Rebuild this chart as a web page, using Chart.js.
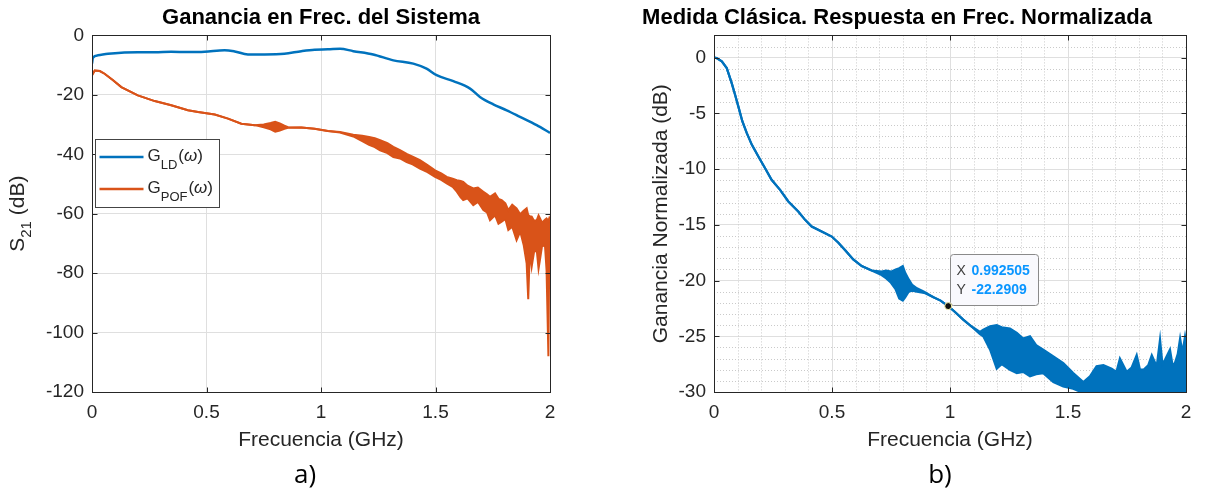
<!DOCTYPE html>
<html>
<head>
<meta charset="utf-8">
<script src="https://cdn.jsdelivr.net/npm/chart.js@4.4.1/dist/chart.umd.min.js"></script>
<style>
  body { margin: 0; background: #fff; width: 1216px; height: 492px; position: relative; overflow: hidden; }
  canvas { position: absolute; top: 0; }
  #left { left: 0; }
  #right { left: 608px; }
  .tag { position: absolute; top: 458px; width: 100px; text-align: center; font: 26px "Open Sans", sans-serif; line-height: 30px; color: #000; }
</style>
</head>
<body>
<canvas id="left" width="608" height="492"></canvas>
<canvas id="right" width="684" height="492"></canvas>
<div class="tag" style="left:255px">a)</div>
<div class="tag" style="left:890px">b)</div>
<script>
// Axis ticks
const xTicks = [0, 0.5, 1, 1.5, 2];
const xTickLabels = ['0', '0.5', '1', '1.5', '2'];
const yTicksLeft = [-120, -100, -80, -60, -40, -20, 0];
const yTickLabelsLeft = ['-120', '-100', '-80', '-60', '-40', '-20', '0'];
const yTicksRight = [-30, -25, -20, -15, -10, -5, 0];
const yTickLabelsRight = ['-30', '-25', '-20', '-15', '-10', '-5', '0'];

// a) G_LD (smooth)
const ldFreq = [0, 0.004, 0.026, 0.07, 0.128, 0.2, 0.274, 0.346, 0.419, 0.492,
  0.579, 0.623, 0.681, 0.754, 0.84, 0.914, 0.972, 1.03, 1.083, 1.141,
  1.228, 1.316, 1.403, 1.461, 1.505, 1.578, 1.651, 1.694, 1.752, 1.811,
  1.869, 1.942, 2.0];
const ldGain = [-9.5, -7.5, -6.7, -6.2, -5.8, -5.7, -5.7, -5.5, -5.6, -5.5,
  -5.0, -5.4, -6.4, -6.4, -6.2, -5.3, -4.8, -4.7, -4.5, -5.3,
  -6.4, -8.4, -9.5, -11.2, -13.4, -15.4, -17.9, -20.7, -23.2, -25.2,
  -27.4, -30.2, -32.8];

// a) G_POF: upper / lower envelope of the noisy trace
const pofFreq = [0, 0.012, 0.034, 0.055, 0.092, 0.128, 0.2, 0.274, 0.346, 0.419,
  0.463, 0.536, 0.594, 0.652, 0.711, 0.75, 0.78, 0.8, 0.82, 0.84,
  0.856, 0.914, 0.972, 1.03, 1.083, 1.141, 1.18, 1.21, 1.235, 1.258,
  1.29, 1.316, 1.345, 1.374, 1.4, 1.432, 1.465, 1.498, 1.525, 1.549,
  1.575, 1.593, 1.61, 1.621, 1.64, 1.665, 1.685, 1.709, 1.725, 1.738,
  1.76, 1.775, 1.789, 1.805, 1.818, 1.835, 1.854, 1.87, 1.885, 1.898,
  1.905, 1.912, 1.92, 1.93, 1.942, 1.95, 1.956, 1.965, 1.978, 1.985,
  1.993, 1.997, 2.0];
const pofHigh = [-13.4, -11.8, -12.0, -12.9, -15.1, -17.4, -20.2, -22.1, -23.5, -25.2,
  -25.8, -26.6, -28.0, -29.7, -30.2, -30.0, -29.5, -29.1, -29.6, -30.4,
  -30.9, -31.0, -31.4, -32.2, -32.5, -33.4, -33.8, -34.2, -34.6, -35.3,
  -36.3, -37.5, -38.6, -39.9, -40.8, -42.0, -43.6, -45.4, -46.4, -47.6,
  -48.2, -48.7, -49.0, -49.3, -50.6, -51.5, -51.2, -52.6, -53.5, -54.3,
  -53.2, -55.0, -55.4, -56.5, -58.8, -57.0, -58.2, -60.2, -59.0, -58.2,
  -60.5, -60.8, -61.0, -62.4, -62.2, -60.6, -61.5, -63.0, -62.0, -61.6,
  -62.5, -61.5, -62.0];
const pofLow = [-13.4, -11.8, -12.0, -12.9, -15.1, -17.4, -20.2, -22.1, -23.5, -25.2,
  -25.8, -26.6, -28.0, -29.7, -30.2, -30.9, -31.6, -32.4, -32.0, -31.4,
  -31.1, -31.0, -31.4, -32.2, -32.7, -34.0, -35.6, -36.8, -37.6, -38.7,
  -39.6, -40.9, -41.4, -42.6, -43.4, -44.8, -46.0, -47.6, -48.6, -49.8,
  -51.0, -52.6, -54.5, -55.4, -54.8, -57.1, -56.0, -58.8, -59.6, -62.2,
  -60.5, -63.4, -62.7, -61.8, -65.5, -64.4, -68.9, -66.0, -70.5, -76.7,
  -88.8, -72.0, -77.8, -73.0, -72.2, -78.5, -75.6, -71.0, -70.6, -79.0,
  -108.0, -72.0, -68.9];

// b) normalized response: upper / lower envelope
const normFreq = [0, 0.011, 0.033, 0.054, 0.075, 0.089, 0.103, 0.12, 0.139, 0.16,
  0.188, 0.216, 0.244, 0.28, 0.315, 0.357, 0.386, 0.414, 0.456, 0.499,
  0.527, 0.555, 0.59, 0.626, 0.668, 0.71, 0.73, 0.75, 0.77, 0.785,
  0.8, 0.81, 0.825, 0.84, 0.86, 0.89, 0.93, 0.96, 0.9925, 1.02,
  1.056, 1.09, 1.127, 1.141, 1.17, 1.198, 1.219, 1.254, 1.283, 1.31,
  1.339, 1.365, 1.395, 1.438, 1.48, 1.522, 1.565, 1.593, 1.621, 1.65,
  1.685, 1.705, 1.72, 1.749, 1.77, 1.791, 1.805, 1.82, 1.84, 1.855,
  1.876, 1.89, 1.9, 1.911, 1.932, 1.943, 1.953, 1.965, 1.975, 1.985,
  1.996, 2.0];
const normHigh = [0, -0.03, -0.33, -0.93, -2.28, -3.3, -4.37, -5.7, -6.77, -7.8,
  -8.87, -9.9, -10.96, -11.86, -12.9, -13.8, -14.55, -15.15, -15.6, -16.05,
  -16.6, -17.25, -18.1, -18.7, -19.1, -19.2, -19.1, -19.2, -19.0, -18.9,
  -18.7, -19.3, -19.9, -20.4, -20.7, -21.0, -21.5, -21.8, -22.29, -22.8,
  -23.5, -24.1, -24.6, -24.4, -24.1, -24.0, -24.2, -24.3, -24.7, -25.2,
  -25.0, -25.8, -26.2, -26.8, -27.4, -28.3, -29.1, -28.6, -27.7, -27.6,
  -27.9, -28.2, -27.0, -28.2, -27.8, -26.7, -28.0, -28.0, -27.6, -26.7,
  -27.7, -25.3, -27.5, -27.1, -26.2, -27.6, -27.4, -26.6, -25.2, -26.5,
  -25.0, -25.5];
const normLow = [0, -0.03, -0.33, -0.93, -2.28, -3.3, -4.37, -5.7, -6.77, -7.8,
  -8.87, -9.9, -10.96, -11.86, -12.9, -13.8, -14.55, -15.15, -15.6, -16.05,
  -16.6, -17.25, -18.1, -18.7, -19.1, -19.5, -19.8, -20.2, -20.8, -21.6,
  -21.8, -21.5, -21.0, -20.9, -21.0, -21.1, -21.5, -21.8, -22.29, -22.8,
  -23.5, -24.1, -24.8, -25.0, -26.2, -27.9, -27.5, -28.0, -28.3, -28.2,
  -28.6, -28.4, -28.3, -29.1, -29.5, -29.7, -30.1, -31, -31, -31,
  -31, -31, -31, -31, -31, -31, -31, -31, -31, -31,
  -31, -31, -31, -31, -31, -31, -31, -31, -31, -31,
  -31, -31];

// data tip on b)
const tipX = 0.992505;
const tipY = -22.2909;

const FONT = '"Liberation Sans", Arial, sans-serif';
const AXIS = '#262626';
const GRID = '#dfdfdf';
const BLUE = '#0072BD';
const ORANGE = '#D95319';

const pts = (xs, ys) => xs.map((x, i) => ({ x: x, y: ys[i] }));

// box round the axes with inward tick marks (MATLAB style)
const frame = {
  id: 'frame',
  afterDatasetsDraw(chart) {
    const { ctx, chartArea: a, scales: { x, y } } = chart;
    const L = Math.round(a.left) + 0.5, R = Math.round(a.right) + 0.5;
    const T = Math.round(a.top) + 0.5, B = Math.round(a.bottom) + 0.5;
    ctx.save();
    ctx.strokeStyle = AXIS;
    ctx.lineWidth = 1;
    ctx.strokeRect(L, T, R - L, B - T);
    ctx.beginPath();
    x.ticks.forEach(t => {
      const px = Math.round(x.getPixelForValue(t.value)) + 0.5;
      ctx.moveTo(px, B); ctx.lineTo(px, B - 5);
      ctx.moveTo(px, T); ctx.lineTo(px, T + 5);
    });
    y.ticks.forEach(t => {
      const py = Math.round(y.getPixelForValue(t.value)) + 0.5;
      ctx.moveTo(L, py); ctx.lineTo(L + 5, py);
      ctx.moveTo(R, py); ctx.lineTo(R - 5, py);
    });
    ctx.stroke();
    ctx.restore();
  }
};

// dotted minor grid for b)
const minorGrid = {
  id: 'minorGrid',
  beforeDatasetsDraw(chart) {
    const { ctx, chartArea: a, scales: { x, y } } = chart;
    ctx.save();
    ctx.strokeStyle = '#cacaca';
    ctx.lineWidth = 1;
    ctx.setLineDash([1, 2]);
    ctx.beginPath();
    for (let i = 1; i < 20; i++) {
      if (i % 5 === 0) continue;
      const px = Math.round(x.getPixelForValue(i / 10)) + 0.5;
      ctx.moveTo(px, a.top); ctx.lineTo(px, a.bottom);
    }
    for (let v = -29; v <= 2; v++) {
      if (v % 5 === 0) continue;
      const py = Math.round(y.getPixelForValue(v)) + 0.5;
      ctx.moveTo(a.left, py); ctx.lineTo(a.right, py);
    }
    ctx.stroke();
    ctx.restore();
  }
};

// data tip box
const dataTip = {
  id: 'dataTip',
  afterDatasetsDraw(chart) {
    const { ctx, scales: { x, y } } = chart;
    const px = x.getPixelForValue(tipX), py = y.getPixelForValue(tipY);
    const bx = Math.round(px + 1.5) + 0.5, by = Math.round(py - 52) + 0.5;
    const bw = 88, bh = 51;
    ctx.save();
    ctx.beginPath();
    ctx.roundRect(bx, by, bw, bh, 3);
    ctx.fillStyle = '#f9f9fd';
    ctx.fill();
    ctx.strokeStyle = '#8a8a8a';
    ctx.lineWidth = 1;
    ctx.stroke();
    ctx.textBaseline = 'middle';
    ctx.font = `14px ${FONT}`;
    ctx.fillStyle = '#404040';
    ctx.fillText('X', bx + 6, by + 17);
    ctx.fillText('Y', bx + 6, by + 36);
    ctx.font = `bold 14px ${FONT}`;
    ctx.fillStyle = '#0a96ff';
    ctx.fillText(String(tipX), bx + 21, by + 17);
    ctx.fillText(String(tipY), bx + 21, by + 36);
    ctx.beginPath();
    ctx.arc(px, py, 3.5, 0, Math.PI * 2);
    ctx.fillStyle = '#111';
    ctx.fill();
    ctx.strokeStyle = '#f2f0a8';
    ctx.lineWidth = 1;
    ctx.stroke();
    ctx.restore();
  }
};

// text with a subscript, returns the end x
function subText(ctx, x, y, main, sub, size, subSize, drop) {
  ctx.font = `${size}px ${FONT}`;
  ctx.fillText(main, x, y);
  x += ctx.measureText(main).width;
  ctx.font = `${subSize}px ${FONT}`;
  ctx.fillText(sub, x, y + drop);
  x += ctx.measureText(sub).width;
  return x;
}

// legend of a) and the S21 axis label (both need subscripts)
const legendA = {
  id: 'legendA',
  afterDraw(chart) {
    const { ctx, chartArea: a } = chart;
    ctx.save();
    const lx = Math.round(a.left) + 3.5, ly = 139.5;
    ctx.fillStyle = '#fff';
    ctx.fillRect(lx, ly, 124, 68);
    ctx.strokeStyle = '#444';
    ctx.lineWidth = 1;
    ctx.strokeRect(lx, ly, 124, 68);
    const rows = [
      { color: BLUE, sub: 'LD', y: 157 },
      { color: ORANGE, sub: 'POF', y: 189 }
    ];
    rows.forEach(r => {
      ctx.strokeStyle = r.color;
      ctx.lineWidth = 2.5;
      ctx.beginPath();
      ctx.moveTo(lx + 4, r.y); ctx.lineTo(lx + 48, r.y);
      ctx.stroke();
      ctx.fillStyle = AXIS;
      ctx.textBaseline = 'alphabetic';
      let x = subText(ctx, lx + 52, r.y + 4, 'G', r.sub, 17, 13, 8);
      ctx.font = `17px ${FONT}`;
      ctx.fillText('(', x + 1, r.y + 4);
      x += 1 + ctx.measureText('(').width;
      ctx.font = `italic 17px ${FONT}`;
      ctx.fillText('\u03c9', x, r.y + 4);
      x += ctx.measureText('\u03c9').width;
      ctx.font = `17px ${FONT}`;
      ctx.fillText(')', x, r.y + 4);
    });

    // rotated y label: S21 (dB)
    const cy = (a.top + a.bottom) / 2;
    ctx.translate(24, cy);
    ctx.rotate(-Math.PI / 2);
    ctx.fillStyle = AXIS;
    ctx.font = `21px ${FONT}`;
    const w1 = ctx.measureText('S').width + ctx.measureText(' (dB)').width;
    ctx.font = `15px ${FONT}`;
    const w2 = ctx.measureText('21').width;
    let x = -(w1 + w2) / 2;
    x = subText(ctx, x, 0, 'S', '21', 21, 15, 7);
    ctx.font = `21px ${FONT}`;
    ctx.fillText(' (dB)', x, 0);
    ctx.restore();
  }
};

function xScale() {
  return {
    type: 'linear', min: 0, max: 2,
    afterBuildTicks: s => { s.ticks = xTicks.map(v => ({ value: v })); },
    afterFit: s => { s.height = 100; },
    ticks: {
      color: AXIS, font: { family: FONT, size: 19 }, padding: 9, maxRotation: 0, autoSkip: false,
      callback: v => xTickLabels[xTicks.indexOf(v)]
    },
    grid: { color: GRID, drawTicks: false },
    border: { display: false },
    title: {
      display: true, text: 'Frecuencia (GHz)', color: AXIS,
      font: { family: FONT, size: 21 }, padding: { top: 0, bottom: 39 }
    }
  };
}

function titleOpts(text, fullSize) {
  return {
    display: true, text: text, fullSize: fullSize, color: '#000',
    font: { family: FONT, size: 22, weight: 'bold' },
    padding: { top: 5, bottom: 4 }
  };
}

// a) Ganancia en Frec. del Sistema
new Chart(document.getElementById('left'), {
  type: 'line',
  data: {
    datasets: [
      {
        label: 'G_LD', data: pts(ldFreq, ldGain), borderColor: BLUE, borderWidth: 2.5,
        pointRadius: 0, fill: false, cubicInterpolationMode: 'monotone'
      },
      {
        label: 'G_POF max', data: pts(pofFreq, pofHigh), borderColor: ORANGE, backgroundColor: ORANGE,
        borderWidth: 2, pointRadius: 0, fill: '+1', tension: 0
      },
      {
        label: 'G_POF min', data: pts(pofFreq, pofLow), borderColor: ORANGE,
        borderWidth: 2, pointRadius: 0, fill: false, tension: 0
      }
    ]
  },
  options: {
    responsive: false, animation: false, events: [],
    layout: { padding: { left: 0, right: 58, top: 0, bottom: 0 } },
    plugins: {
      legend: { display: false }, tooltip: { enabled: false },
      title: titleOpts('Ganancia en Frec. del Sistema', false)
    },
    scales: {
      x: xScale(),
      y: {
        type: 'linear', min: -120, max: 0,
        afterBuildTicks: s => { s.ticks = yTicksLeft.map(v => ({ value: v })); },
        afterFit: s => { s.width = 92; },
        ticks: {
          color: AXIS, font: { family: FONT, size: 19 }, padding: 8,
          callback: v => yTickLabelsLeft[yTicksLeft.indexOf(v)]
        },
        grid: { color: GRID, drawTicks: false },
        border: { display: false }
      }
    }
  },
  plugins: [frame, legendA]
});

// b) Medida Clásica. Respuesta en Frec. Normalizada
// canvas is 684 wide so the full-width title is centred over the axes
new Chart(document.getElementById('right'), {
  type: 'line',
  data: {
    datasets: [
      {
        label: 'max', data: pts(normFreq, normHigh), borderColor: BLUE, backgroundColor: BLUE,
        borderWidth: 2.2, pointRadius: 0, fill: '+1', tension: 0, clip: 0
      },
      {
        label: 'min', data: pts(normFreq, normLow), borderColor: BLUE,
        borderWidth: 2.2, pointRadius: 0, fill: false, tension: 0, clip: 0
      }
    ]
  },
  options: {
    responsive: false, animation: false, events: [],
    layout: { padding: { left: 0, right: 106, top: 0, bottom: 0 } },
    plugins: {
      legend: { display: false }, tooltip: { enabled: false },
      title: titleOpts('Medida Clásica. Respuesta en Frec. Normalizada', true)
    },
    scales: {
      x: xScale(),
      y: {
        type: 'linear', min: -30, max: 2,
        afterBuildTicks: s => { s.ticks = yTicksRight.map(v => ({ value: v })); },
        afterFit: s => { s.width = 106; },
        ticks: {
          color: AXIS, font: { family: FONT, size: 19 }, padding: 8,
          callback: v => yTickLabelsRight[yTicksRight.indexOf(v)]
        },
        grid: { color: GRID, drawTicks: false },
        border: { display: false },
        title: {
          display: true, text: 'Ganancia Normalizada (dB)', color: AXIS,
          font: { family: FONT, size: 21 }, padding: { top: 41, bottom: 0 }
        }
      }
    }
  },
  plugins: [minorGrid, frame, dataTip]
});
</script>
</body>
</html>
